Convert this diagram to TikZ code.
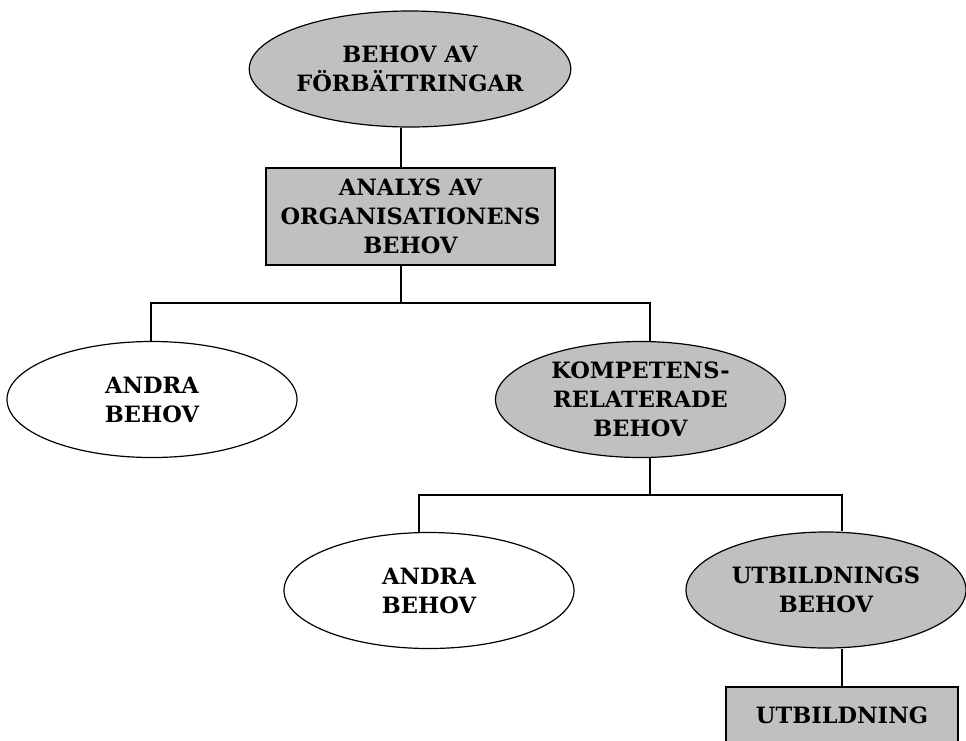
\documentclass[tikz,border=0pt]{standalone}
\usepackage{fontspec}
\setmainfont{DejaVu Serif}
\usepackage{tikz}
\usetikzlibrary{shapes.geometric}
\definecolor{boxgray}{RGB}{192,192,192}
\tikzset{
    label text/.style={align=center, font=\bfseries\fontsize{22.5}{29}\selectfont},
    behov/.style={shape=ellipse, draw=black, line width=1.2pt, minimum width=290pt, minimum height=116pt, inner sep=0pt, label text},
    ruta/.style={shape=rectangle, draw=black, line width=1.2pt, fill=boxgray, inner sep=0pt, label text},
    link/.style={draw=black, line width=1.2pt}}

\begin{document}
\begin{tikzpicture}[x=1pt, y=-1pt]
        
                    \clip (0,0) rectangle (966,740);
                    
                    \node[behov, fill=boxgray] (E0) at (410,69) {BEHOV AV\\FÖRBÄTTRINGAR};
                    \node[ruta, minimum width=289pt, minimum height=97pt] (R0) at (410.5,216.5) {ANALYS AV\\ORGANISATIONENS\\BEHOV};
                    \node[behov, fill=white] (E1) at (152,399.5) {ANDRA\\BEHOV};
                    \node[behov, fill=boxgray] (E2) at (640.5,399.5) {KOMPETENS-\\RELATERADE\\BEHOV};
                    \node[behov, fill=white] (E3) at (429,590.5) {ANDRA\\BEHOV};
                    \node[behov, fill=boxgray, minimum width=280pt] (E4) at (826,590) {UTBILDNINGS\\BEHOV};
                    \node[ruta, minimum width=232pt, minimum height=56pt] (R1) at (842,715) {UTBILDNING};
                    
                    \coordinate (J0) at (401,303);
                    \coordinate (J1) at (650,495);
                    
                    \draw[link] (E0.south -| J0) -- (R0.north -| J0);
                    \draw[link] (R0.south -| J0) -- (J0);
                    \draw[link] (J0) -| ([xshift=-1pt]E1.north);
                    \draw[link] (J0) -| (E2.north -| J1);
                    \draw[link] (E2.south -| J1) -- (J1);
                    \draw[link] (J1) -| ([xshift=-10pt]E3.north);
                    \draw[link] (J1) -| ([xshift=16pt]E4.north);
                    \draw[link] (R1.north |- E4.south) -- (R1.north);
    
                \end{tikzpicture}
\end{document}
